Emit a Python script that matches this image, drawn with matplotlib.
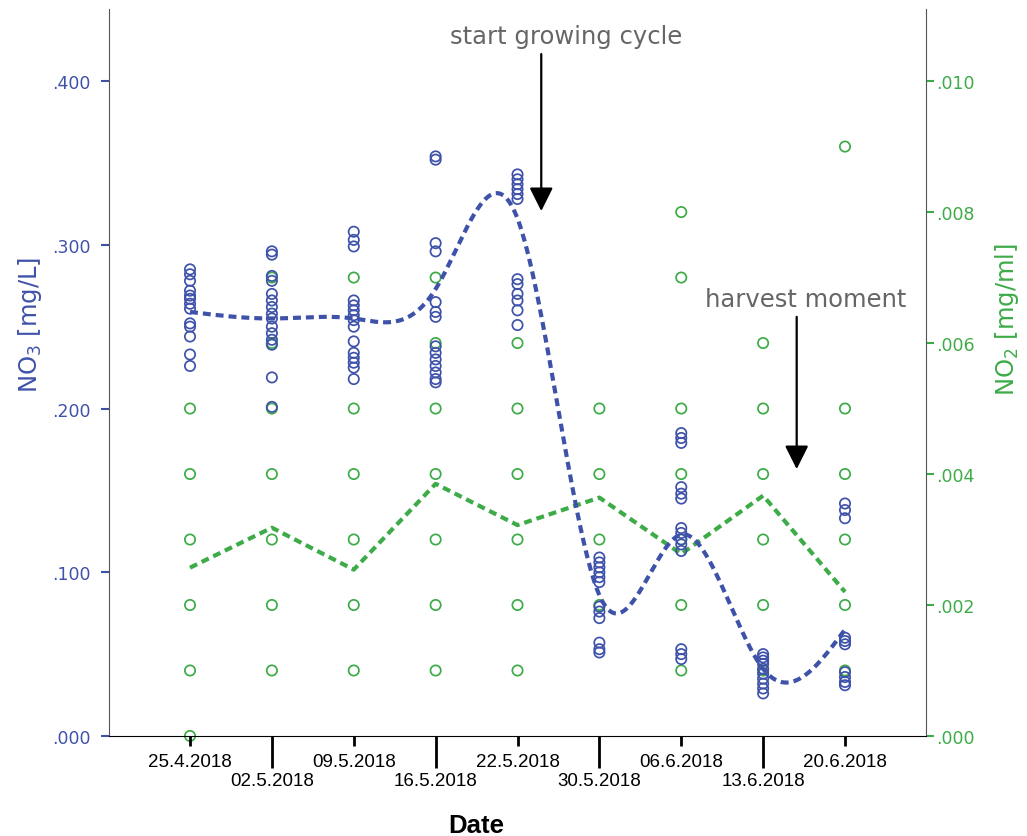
import numpy as np
import matplotlib.pyplot as plt

# sampling dates (evenly spaced categories)
dates = ["25.4.2018", "02.5.2018", "09.5.2018", "16.5.2018", "22.5.2018",
         "30.5.2018", "06.6.2018", "13.6.2018", "20.6.2018"]

# NO3 samples per date [mg/L]
no3_samples = [
    [.285, .282, .278, .272, .269, .267, .264, .261, .252, .250, .244, .233, .226],
    [.296, .294, .281, .278, .270, .266, .262, .258, .255, .250, .246, .242, .239, .219, .201],
    [.308, .303, .299, .266, .263, .260, .257, .254, .250, .241, .234, .231, .228, .225, .218],
    [.354, .352, .301, .296, .265, .259, .256, .238, .234, .230, .226, .222, .218, .216],
    [.343, .340, .337, .334, .331, .328, .279, .276, .270, .266, .260, .251],
    [.109, .106, .103, .100, .097, .094, .079, .076, .072, .057, .053, .051],
    [.185, .182, .179, .152, .148, .145, .127, .124, .120, .117, .113, .053, .050, .047],
    [.050, .048, .046, .044, .041, .038, .035, .032, .029, .026],
    [.142, .138, .133, .060, .058, .056, .039, .036, .033, .031],
]

# NO2 samples per date [mg/ml]
no2_samples = [
    [.000, .001, .002, .003, .004, .005],
    [.001, .002, .003, .004, .005, .006, .007],
    [.001, .002, .003, .004, .005, .007],
    [.001, .002, .003, .004, .005, .006, .007],
    [.001, .002, .003, .004, .005, .006],
    [.002, .003, .004, .005],
    [.001, .002, .003, .004, .005, .007, .008],
    [.001, .002, .003, .004, .005, .006],
    [.001, .002, .003, .004, .005, .009],
]

# mean per date
no3_mean = [.259, .255, .255, .273, .316, .086, .123, .041, .065]
no2_mean = [.00257, .00318, .00254, .00385, .00322, .00364, .00278, .00367, .0022]

BLUE = "#3F52AA"
GREEN = "#3DAB47"
GREY_TXT = "#666666"


def natural_spline(x, y, n=400):
    x = np.asarray(x, float)
    y = np.asarray(y, float)
    k = len(x)
    h = np.diff(x)
    A = np.zeros((k, k))
    b = np.zeros(k)
    A[0, 0] = A[-1, -1] = 1
    for i in range(1, k - 1):
        A[i, i - 1] = h[i - 1]
        A[i, i] = 2 * (h[i - 1] + h[i])
        A[i, i + 1] = h[i]
        b[i] = 6 * ((y[i + 1] - y[i]) / h[i] - (y[i] - y[i - 1]) / h[i - 1])
    M = np.linalg.solve(A, b)
    xs = np.linspace(x[0], x[-1], n)
    idx = np.clip(np.searchsorted(x, xs) - 1, 0, k - 2)
    x0, x1 = x[idx], x[idx + 1]
    hh = x1 - x0
    t0, t1 = x1 - xs, xs - x0
    ys = (M[idx] * t0**3 + M[idx + 1] * t1**3) / (6 * hh) \
        + (y[idx] / hh - M[idx] * hh / 6) * t0 \
        + (y[idx + 1] / hh - M[idx + 1] * hh / 6) * t1
    return xs, ys


fig = plt.figure(figsize=(10.27, 8.37), dpi=100)
ax = fig.add_axes([0.1061, 0.1195, 0.7956, 0.8685])
ax2 = ax.twinx()

pos = np.arange(len(dates))

for i, vals in enumerate(no2_samples):
    ax2.scatter([pos[i]] * len(vals), vals, s=55, facecolors="none",
                edgecolors=GREEN, linewidths=1.25, zorder=2, clip_on=False)
for i, vals in enumerate(no3_samples):
    ax.scatter([pos[i]] * len(vals), vals, s=55, facecolors="none",
               edgecolors=BLUE, linewidths=1.25, zorder=2, clip_on=False)

xs, ys = natural_spline(pos, no3_mean)
ax2.plot(pos, no2_mean, color=GREEN, lw=3, dashes=(1.9, 1.2), zorder=3)
ax.plot(xs, ys, color=BLUE, lw=3, dashes=(1.9, 1.2), zorder=3)
ax.set_zorder(ax2.get_zorder() + 1)
ax.patch.set_visible(False)

ax.set_xlim(-0.99, 8.99)
ax.set_ylim(0, 0.444)
ax2.set_ylim(0, 0.0111)

# left axis
ax.set_yticks([0, .1, .2, .3, .4])
ax.set_yticklabels([".000", ".100", ".200", ".300", ".400"])
ax.tick_params(axis="y", colors=BLUE, labelsize=12.5, length=6, width=1.5, pad=7)
ax.set_ylabel("NO$_3$ [mg/L]", color=BLUE, fontsize=17.5)
ax.yaxis.set_label_coords(-0.080, 0.567)

# right axis
ax2.set_yticks([0, .002, .004, .006, .008, .010])
ax2.set_yticklabels([".000", ".002", ".004", ".006", ".008", ".010"])
ax2.tick_params(axis="y", colors=GREEN, labelsize=12.5, length=6, width=1.5, pad=1)
ax2.set_ylabel("NO$_2$ [mg/ml]", color=GREEN, fontsize=17.5)
ax2.yaxis.set_label_coords(1.082, 0.574)

for a in (ax, ax2):
    a.spines["top"].set_visible(False)
    a.spines["left"].set_color("#555555")
    a.spines["right"].set_color("#555555")
    a.spines["bottom"].set_color("black")
ax.spines["right"].set_visible(False)
ax2.spines["left"].set_visible(False)
ax2.spines["bottom"].set_visible(False)

# staggered date labels: even positions on top row, odd ones below
ax.set_xticks(pos[::2])
ax.set_xticklabels(dates[::2], fontfamily="Liberation Sans")
ax.set_xticks(pos[1::2], minor=True)
ax.set_xticklabels(dates[1::2], minor=True, fontfamily="Liberation Sans")
ax.tick_params(axis="x", which="major", length=7, width=2, labelsize=13.5, pad=5)
ax.tick_params(axis="x", which="minor", length=23, width=2, labelsize=13.5, pad=3)

ax.set_xlabel("Date", fontsize=18.5, fontweight="bold", fontfamily="Liberation Sans")
ax.xaxis.set_label_coords(0.449, -0.106)

# annotations
arrow = dict(arrowstyle="-|>", color="black", lw=1.6, mutation_scale=36,
             shrinkA=0, shrinkB=0)
ax.annotate("", xy=(4.29, .3206), xytext=(4.29, .4165), arrowprops=arrow)
ax.text(4.59, .4275, "start growing cycle", color=GREY_TXT, fontsize=17.5,
        ha="center", va="center")
ax.annotate("", xy=(7.41, .163), xytext=(7.41, .256), arrowprops=arrow)
ax.text(7.52, .267, "harvest moment", color=GREY_TXT, fontsize=17.5,
        ha="center", va="center")

fig.savefig("out.png", dpi=100)
